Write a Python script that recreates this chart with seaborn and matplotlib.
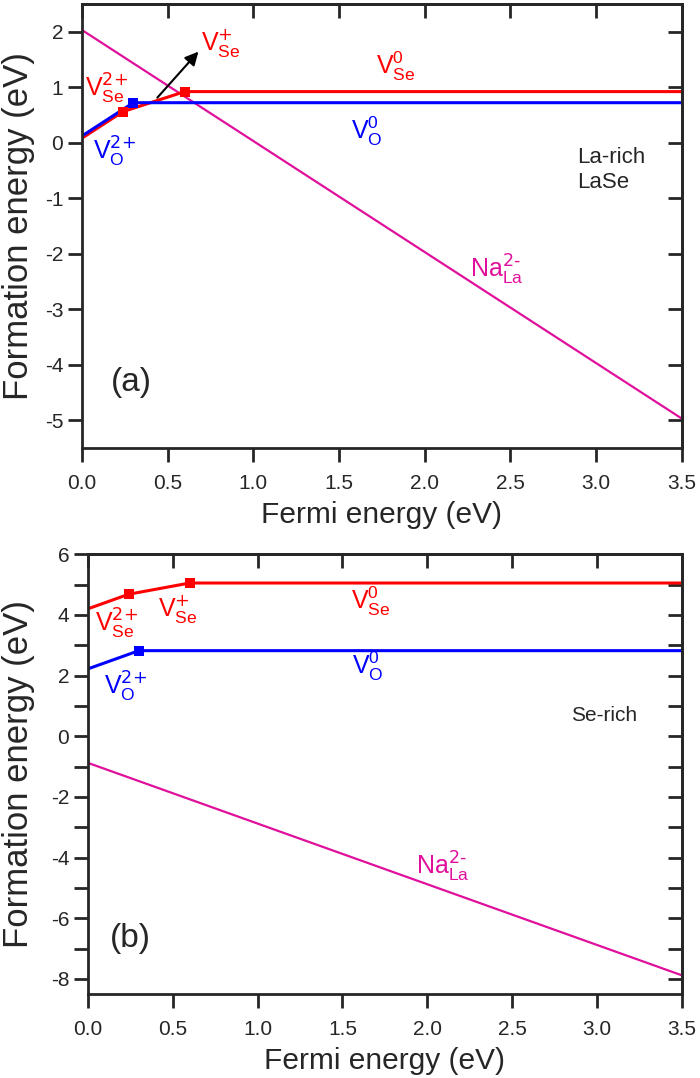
import matplotlib
matplotlib.use('Agg')
import pandas as pd
import seaborn as sns
import matplotlib.pyplot as plt
from matplotlib.ticker import MultipleLocator

# Fermi energy breakpoints (eV)
ef_vse = [0.0, 0.24, 0.60, 3.5]
ef_vo = [0.0, 0.30, 3.5]
ef_na = [0.0, 3.5]

# formation energies (eV) at those breakpoints, La-rich (a)
vse_la = [0.08, 0.56, 0.92, 0.92]
vo_la = [0.12, 0.72, 0.72]
na_la = [2.03, -4.97]

# Se-rich (b)
vse_se = [4.20, 4.68, 5.05, 5.05]
vo_se = [2.22, 2.82, 2.82]
na_se = [-0.88, -7.88]

x_ticks = [0.0, 0.5, 1.0, 1.5, 2.0, 2.5, 3.0, 3.5]

RED = '#ff0000'
BLUE = '#0000ff'
PINK = '#e0109c'

sns.set_style('ticks')
plt.rcParams['font.family'] = ['Liberation Sans', 'DejaVu Sans']
plt.rcParams['mathtext.default'] = 'regular'
plt.rcParams['axes.unicode_minus'] = False


def draw_lines(ax, vse, vo, na):
    sns.lineplot(x=ef_na, y=na, color=PINK, lw=1.6, ax=ax, sort=False)
    sns.lineplot(x=ef_vse, y=vse, color=RED, lw=2.2, ax=ax, sort=False)
    sns.lineplot(x=ef_vo, y=vo, color=BLUE, lw=2.2, ax=ax, sort=False)
    # transition levels
    sns.scatterplot(x=ef_vse[1:3], y=vse[1:3], marker='s', s=55, color=RED,
                    linewidth=0, ax=ax, zorder=4)
    sns.scatterplot(x=ef_vo[1:2], y=vo[1:2], marker='s', s=55, color=BLUE,
                    linewidth=0, ax=ax, zorder=5)


def style_axes(ax, ylim, ymajor, yminor):
    ax.set_xlim(0, 3.5)
    ax.set_ylim(*ylim)
    ax.set_xticks(x_ticks)
    ax.xaxis.set_major_formatter(matplotlib.ticker.FormatStrFormatter('%.1f'))
    ax.yaxis.set_major_locator(MultipleLocator(ymajor))
    ax.yaxis.set_minor_locator(MultipleLocator(yminor))
    for s in ax.spines.values():
        s.set_linewidth(2)
        s.set_visible(True)
    ax.tick_params(which='both', direction='out', length=10, width=2,
                   labelsize=15, top=False, right=False)
    ax.tick_params(axis='x', pad=8.5)
    # inward ticks on top and right
    top = ax.secondary_xaxis('top')
    top.set_xticks(x_ticks)
    top.tick_params(direction='in', length=10, width=2, labeltop=False)
    right = ax.secondary_yaxis('right')
    right.yaxis.set_major_locator(MultipleLocator(ymajor))
    right.yaxis.set_minor_locator(MultipleLocator(yminor))
    right.tick_params(which='both', direction='in', length=10, width=2,
                      labelright=False)
    for s in list(top.spines.values()) + list(right.spines.values()):
        s.set_linewidth(2)
    ax.set_xlabel('Fermi energy (eV)', fontsize=21.5, labelpad=6)
    ax.set_ylabel('Formation energy (eV)', fontsize=25)


def lab(ax, x, y, s, c, size=18):
    ax.text(x, y, s, color=c, fontsize=size, ha='center', va='center')


fig = plt.figure(figsize=(7, 10.78), dpi=100)
ax1 = fig.add_axes([0.117, 0.5844, 0.857, 0.412])
ax2 = fig.add_axes([0.1257, 0.0779, 0.848, 0.408])

# (a) La-rich
draw_lines(ax1, vse_la, vo_la, na_la)
style_axes(ax1, (-5.5, 2.5), 1, 1)
ax1.yaxis.set_label_coords(-0.078, 0.5)
lab(ax1, 0.146, 0.97, r'$V_{Se}^{\text{2+}}$', RED)
lab(ax1, 0.81, 1.80, r'$V_{Se}^{\text{+}}$', RED)
lab(ax1, 1.83, 1.37, r'$V_{Se}^{0}$', RED)
lab(ax1, 0.19, -0.16, r'$V_{O}^{\text{2+}}$', BLUE)
lab(ax1, 1.66, 0.20, r'$V_{O}^{0}$', BLUE)
lab(ax1, 2.42, -2.30, r'$Na_{La}^{\text{2-}}$', PINK)
ax1.text(2.89, -0.07, 'La-rich\nLaSe', fontsize=16, ha='left', va='top',
         linespacing=1.25)
ax1.text(0.286, -4.32, '(a)', fontsize=24, ha='center', va='center')
ax1.annotate('', xy=(0.68, 1.64), xytext=(0.44, 0.81),
             arrowprops=dict(arrowstyle='-|>', color='k', lw=1.5,
                             mutation_scale=20, shrinkA=0, shrinkB=0))

# (b) Se-rich
draw_lines(ax2, vse_se, vo_se, na_se)
style_axes(ax2, (-8.5, 6), 2, 1)
ax2.yaxis.set_label_coords(-0.089, 0.5)
lab(ax2, 0.165, 3.71, r'$V_{Se}^{\text{2+}}$', RED)
lab(ax2, 0.53, 4.18, r'$V_{Se}^{\text{+}}$', RED)
lab(ax2, 1.67, 4.45, r'$V_{Se}^{0}$', RED)
lab(ax2, 0.22, 1.62, r'$V_{O}^{\text{2+}}$', BLUE)
lab(ax2, 1.65, 2.30, r'$V_{O}^{0}$', BLUE)
lab(ax2, 2.09, -4.30, r'$Na_{La}^{\text{2-}}$', PINK)
ax2.text(2.85, 0.68, 'Se-rich', fontsize=15, ha='left', va='center')
ax2.text(0.25, -6.66, '(b)', fontsize=24, ha='center', va='center')

fig.savefig('out.png', dpi=100)
